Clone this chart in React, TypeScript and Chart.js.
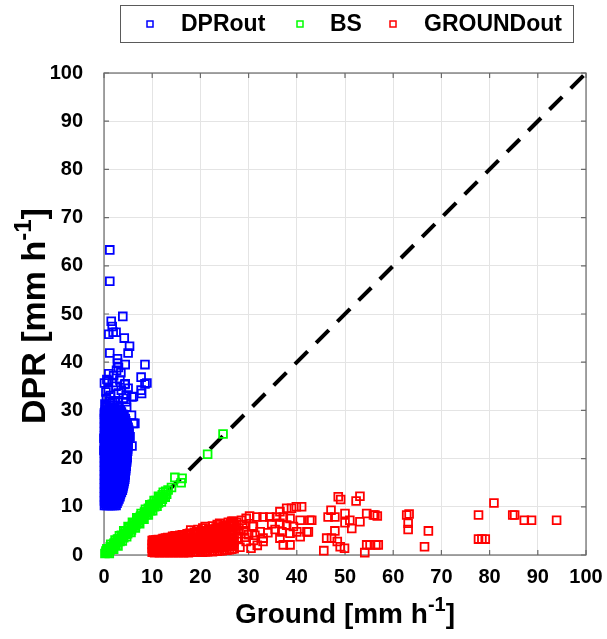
import React, { useEffect, useRef } from 'react';
import { Chart, registerables } from 'chart.js';

Chart.register(...registerables);

const X_TICKS = [0, 10, 20, 30, 40, 50, 60, 70, 80, 90, 100];
const Y_TICKS = [0, 10, 20, 30, 40, 50, 60, 70, 80, 90, 100];
const SERIES_NAMES = ['DPRout', 'BS', 'GROUNDout'];
const SERIES_COLORS = ['#0000ff', '#00ff00', '#ff0000'];

// DPRout dense part: [y, x1, x2, ...]
const DPR_DENSE_ROWS: number[][] = [
  [10.3, 0.1, 0.5, 0.9, 1.3, 1.7, 2.1, 2.5],
  [10.75, 0.3, 0.7, 1.1, 1.5, 1.9, 2.3, 2.7],
  [11.2, 0.1, 0.5, 0.9, 1.3, 1.7, 2.1, 2.5, 2.9],
  [11.65, 0.3, 0.7, 1.1, 1.5, 1.9, 2.3, 2.7, 3.1],
  [12.1, 0.1, 0.5, 0.9, 1.3, 1.7, 2.1, 2.5, 2.9, 3.3],
  [12.55, 0.3, 0.7, 1.1, 1.5, 1.9, 2.3, 2.7, 3.1, 3.4],
  [13.0, 0.1, 0.5, 0.9, 1.3, 1.7, 2.1, 2.5, 2.9, 3.3, 3.6],
  [13.45, 0.3, 0.7, 1.1, 1.5, 1.9, 2.3, 2.7, 3.1, 3.5, 3.8],
  [13.9, 0.1, 0.5, 0.9, 1.3, 1.7, 2.1, 2.5, 2.9, 3.3, 3.7, 3.9],
  [14.35, 0.3, 0.7, 1.1, 1.5, 1.9, 2.3, 2.7, 3.1, 3.5, 3.9, 4.0],
  [14.8, 0.1, 0.5, 0.9, 1.3, 1.7, 2.1, 2.5, 2.9, 3.3, 3.7, 4.1],
  [15.25, 0.3, 0.7, 1.1, 1.5, 1.9, 2.3, 2.7, 3.1, 3.5, 3.9, 4.2],
  [15.7, 0.1, 0.5, 0.9, 1.3, 1.7, 2.1, 2.5, 2.9, 3.3, 3.7, 4.1, 4.3],
  [16.15, 0.3, 0.7, 1.1, 1.5, 1.9, 2.3, 2.7, 3.1, 3.5, 3.9, 4.3],
  [16.6, 0.1, 0.5, 0.9, 1.3, 1.7, 2.1, 2.5, 2.9, 3.3, 3.7, 4.1, 4.4],
  [17.05, 0.3, 0.7, 1.1, 1.5, 1.9, 2.3, 2.7, 3.1, 3.5, 3.9, 4.3, 4.4],
  [17.5, 0.1, 0.5, 0.9, 1.3, 1.7, 2.1, 2.5, 2.9, 3.3, 3.7, 4.1, 4.5],
  [17.95, 0.3, 0.7, 1.1, 1.5, 1.9, 2.3, 2.7, 3.1, 3.5, 3.9, 4.3, 4.5],
  [18.4, 0.1, 0.5, 0.9, 1.3, 1.7, 2.1, 2.5, 2.9, 3.3, 3.7, 4.1, 4.6],
  [18.85, 0.3, 0.7, 1.1, 1.5, 1.9, 2.3, 2.7, 3.1, 3.5, 3.9, 4.3, 4.6],
  [19.3, 0.1, 0.5, 0.9, 1.3, 1.7, 2.1, 2.5, 2.9, 3.3, 3.7, 4.1, 4.5, 4.7],
  [19.75, 0.3, 0.7, 1.1, 1.5, 1.9, 2.3, 2.7, 3.1, 3.5, 3.9, 4.3, 4.7],
  [20.2, 0.1, 0.5, 0.9, 1.3, 1.7, 2.1, 2.5, 2.9, 3.3, 3.7, 4.1, 4.5, 4.8],
  [20.65, 0.3, 0.7, 1.1, 1.5, 1.9, 2.3, 2.7, 3.1, 3.5, 3.9, 4.3, 4.7, 4.8],
  [21.1, 0.1, 0.5, 0.9, 1.3, 1.7, 2.1, 2.5, 2.9, 3.3, 3.7, 4.1, 4.5, 4.8],
  [21.55, 0.3, 0.7, 1.1, 1.5, 1.9, 2.3, 2.7, 3.1, 3.5, 3.9, 4.3, 4.7, 4.9],
  [22.0, 0.1, 0.5, 0.9, 1.3, 1.7, 2.1, 2.5, 2.9, 3.3, 3.7, 4.1, 4.5, 4.9],
  [22.45, 0.3, 0.7, 1.1, 1.5, 1.9, 2.3, 2.7, 3.1, 3.5, 3.9, 4.3, 4.7, 4.9],
  [22.9, 0.1, 0.5, 0.9, 1.3, 1.7, 2.1, 2.5, 2.9, 3.3, 3.7, 4.1, 4.5, 5.0],
  [23.35, 0.3, 0.7, 1.1, 1.5, 1.9, 2.3, 2.7, 3.1, 3.5, 3.9, 4.3, 4.7, 5.0],
  [23.8, 0.1, 0.5, 0.9, 1.3, 1.7, 2.1, 2.5, 2.9, 3.3, 3.7, 4.1, 4.5, 5.0],
  [24.25, 0.3, 0.7, 1.1, 1.5, 1.9, 2.3, 2.7, 3.1, 3.5, 3.9, 4.3, 4.7, 5.1],
  [24.7, 0.1, 0.5, 0.9, 1.3, 1.7, 2.1, 2.5, 2.9, 3.3, 3.7, 4.1, 4.5, 5.1],
  [25.15, 0.3, 0.7, 1.1, 1.5, 1.9, 2.3, 2.7, 3.1, 3.5, 3.9, 4.3, 4.7, 5.1],
  [25.6, 0.1, 0.5, 0.9, 1.3, 1.7, 2.1, 2.5, 2.9, 3.3, 3.7, 4.1, 4.5, 5.2],
  [26.05, 0.3, 0.7, 1.1, 1.5, 1.9, 2.3, 2.7, 3.1, 3.5, 3.9, 4.3, 4.7, 5.1],
  [26.5, 0.1, 0.5, 0.9, 1.3, 1.7, 2.1, 2.5, 2.9, 3.3, 3.7, 4.1, 4.5, 5.0],
  [26.95, 0.3, 0.7, 1.1, 1.5, 1.9, 2.3, 2.7, 3.1, 3.5, 3.9, 4.3, 4.8],
  [27.4, 0.1, 0.5, 0.9, 1.3, 1.7, 2.1, 2.5, 2.9, 3.3, 3.7, 4.1, 4.7],
  [27.85, 0.3, 0.7, 1.1, 1.5, 1.9, 2.3, 2.7, 3.1, 3.5, 3.9, 4.3, 4.5],
  [28.3, 0.1, 0.5, 0.9, 1.3, 1.7, 2.1, 2.5, 2.9, 3.3, 3.7, 4.1, 4.4],
  [28.75, 0.3, 0.7, 1.1, 1.5, 1.9, 2.3, 2.7, 3.1, 3.5, 3.9, 4.1],
  [29.2, 0.1, 0.6, 1.2, 1.8, 2.4, 3.0, 3.6, 3.9],
  [29.65, 0.2, 0.8, 1.4, 2.0, 2.6, 3.2, 3.6],
  [30.1, 0.3, 0.9, 1.5, 2.1, 2.7, 3.4],
  [30.55, 0.6, 1.4, 2.2, 3.0],
  [31.0, 0.4, 1.2, 2.0, 2.8],
];

// DPRout scattered points: [x, y]
const DPR_SPARSE: number[][] = [
  [1.2, 63.3], [1.2, 56.8], [3.9, 49.5], [1.5, 48.5], [1.7, 47.4], [1.0, 45.8],
  [1.9, 46.2], [2.5, 46.2], [4.2, 45.0], [5.3, 43.3], [1.2, 41.9], [2.8, 40.7],
  [5.0, 41.9], [8.5, 39.5], [4.4, 39.5], [3.0, 38.9], [7.7, 36.9], [8.9, 35.7],
  [0.1, 35.7], [0.6, 36.4], [4.3, 35.4], [7.7, 34.2], [5.8, 32.8], [0.1, 29.5],
  [1.7, 31.7], [4.7, 30.7], [6.1, 27.3], [0.0, 24.2], [0.0, 21.7], [5.8, 22.6],
  [5.4, 24.5], [2.8, 39.8], [0.9, 36.2], [4.4, 35.5], [8.5, 35.5], [6.1, 32.9],
  [7.8, 33.5], [1.6, 29.7], [5.7, 29.0], [6.4, 27.3], [5.0, 25.9],
  [0.5, 32.4], [1.3, 33.1], [2.2, 32.0], [3.0, 33.6], [0.9, 34.4], [2.5, 35.0],
  [3.6, 34.2], [1.8, 35.8], [0.4, 33.8], [4.0, 32.5], [2.9, 31.7], [1.1, 31.9],
  [3.3, 36.3], [2.0, 37.2], [1.0, 37.6], [2.6, 38.3], [3.5, 37.8], [4.7, 33.2],
  [5.0, 34.6], [4.6, 31.8], [0.2, 31.3],
];

// BS points: [x, y]
const BS_POINTS: number[][] = [
  [0.2, 0.3], [0.5, 0.4], [0.7, 0.8], [1.0, 1.1], [1.2, 1.0], [1.5, 1.6], [1.8, 1.7],
  [2.0, 2.2], [2.3, 2.1], [2.6, 2.7], [2.9, 2.8], [3.1, 3.3], [3.4, 3.2], [3.7, 3.8],
  [4.0, 3.9], [4.2, 4.4], [4.5, 4.3], [4.8, 4.9], [5.1, 5.0], [5.3, 5.6], [5.6, 5.4],
  [5.9, 6.0], [6.2, 6.1], [6.4, 6.7], [6.7, 6.5], [7.0, 7.1], [7.3, 7.2], [7.5, 7.8],
  [7.8, 7.6], [8.1, 8.2], [8.4, 8.3], [8.6, 8.9], [8.9, 8.7], [9.2, 9.4], [9.5, 9.3],
  [9.7, 10.0], [10.0, 9.8], [10.3, 10.5], [10.6, 10.4], [10.9, 11.2], [11.2, 11.0],
  [11.5, 11.8], [11.8, 11.6], [12.1, 12.5], [12.4, 12.2], [12.8, 13.2], [13.0, 12.6],
  [13.3, 13.5], [14.0, 14.0], [14.7, 16.1], [16.2, 15.9], [16.0, 15.0],
  [21.5, 20.9], [24.7, 25.1],
  [0.6, 1.3], [1.1, 0.3], [1.4, 2.2], [2.0, 1.2], [2.3, 3.1], [2.9, 1.9], [3.2, 4.0],
  [3.8, 2.9], [4.1, 5.0], [4.7, 3.8], [5.0, 5.9], [5.6, 4.7], [5.9, 6.8], [6.5, 5.6],
  [6.8, 7.7], [7.4, 6.5], [7.7, 8.6], [8.3, 7.4], [8.6, 9.5], [9.2, 8.3], [9.5, 10.4],
  [10.1, 9.2], [10.4, 11.3], [11.0, 10.1], [11.3, 12.2], [11.9, 11.0], [12.3, 13.0],
  [12.7, 12.0],
  [0.4, 0.8], [0.8, 0.4], [1.3, 1.7], [1.7, 1.3], [2.1, 2.5], [2.5, 2.1], [2.8, 3.3],
  [3.3, 2.8], [3.6, 4.1], [4.1, 3.6], [4.4, 4.9], [4.9, 4.4], [5.2, 5.7], [5.7, 5.2],
  [6.0, 6.5], [6.5, 6.0], [6.8, 7.3], [7.3, 6.8], [7.6, 8.1], [8.1, 7.6], [8.4, 8.9],
  [8.9, 8.4], [9.2, 9.7], [9.7, 9.2], [10.0, 10.5], [10.5, 10.0], [10.8, 11.3],
  [11.3, 10.8], [11.6, 12.1], [12.1, 11.6],
];

// GROUNDout dense part: [x, y1, y2, ...]
const GROUND_DENSE_COLS: number[][] = [
  [10.0, 0.6, 1.4, 2.2, 3.0], [10.25, 1.0, 1.8, 2.6, 3.1],
  [10.5, 0.5, 1.3, 2.1, 2.9], [10.75, 1.0, 1.8, 2.6, 3.1],
  [11.0, 0.6, 1.4, 2.2, 3.1], [11.25, 1.0, 1.8, 2.7, 3.2],
  [11.5, 0.5, 1.3, 2.2, 3.1], [11.75, 1.0, 1.9, 2.7],
  [12.0, 0.6, 1.5, 2.3, 3.2], [12.25, 1.0, 1.9, 2.8, 3.4],
  [12.5, 0.5, 1.4, 2.3, 3.2], [12.75, 1.0, 1.9, 2.8, 3.5],
  [13.0, 0.6, 1.5, 2.4, 3.4], [13.25, 1.0, 2.0, 2.9, 3.6],
  [13.5, 0.5, 1.4, 2.4, 3.5], [13.75, 1.0, 2.0, 3.0],
  [14.0, 0.6, 1.5, 2.5, 3.6], [14.25, 1.0, 2.0, 3.1, 3.9],
  [14.5, 0.5, 1.5, 2.5, 3.6], [14.75, 1.0, 2.1, 3.1, 4.0],
  [15.0, 0.6, 1.6, 2.6, 3.7], [15.25, 1.1, 2.1, 3.2],
  [15.5, 0.5, 1.5, 2.6, 3.8], [15.75, 1.1, 2.2, 3.3, 4.1],
  [16.0, 0.6, 1.6, 2.7, 3.9], [16.25, 1.1, 2.2, 3.3, 4.2],
  [16.5, 0.5, 1.6, 2.7, 3.9], [16.75, 1.1, 2.2, 3.4],
  [17.0, 0.6, 1.7, 2.8, 4.0], [17.25, 1.1, 2.3, 3.4, 4.4],
  [17.5, 0.5, 1.6, 2.8, 4.1], [17.75, 1.1, 2.3, 3.5, 4.5],
  [18.0, 0.6, 1.7, 2.9, 4.2], [18.25, 1.2, 2.3, 3.5],
  [18.5, 0.6, 1.7, 2.9, 4.2], [18.75, 1.2, 2.4, 3.6, 4.7],
  [19.0, 0.6, 1.8, 3.0, 4.3], [19.25, 1.2, 2.4, 3.7, 4.8],
  [19.5, 0.6, 1.8, 3.0, 4.4], [19.75, 1.2, 2.5, 3.7],
  [20.0, 0.7, 1.9, 3.1, 4.5], [20.25, 1.3, 2.5, 3.8, 5.0],
  [20.5, 0.6, 1.9, 3.1, 4.5], [20.75, 1.3, 2.6, 3.9, 5.1],
  [21.0, 0.7, 1.9, 3.2, 4.6], [21.25, 1.3, 2.6, 3.9],
  [21.5, 0.7, 2.0, 3.3, 4.7], [21.75, 1.4, 2.7, 4.0, 5.3],
  [22.0, 0.8, 2.0, 3.3, 4.8], [22.25, 1.4, 2.7, 4.1, 5.4],
  [22.5, 0.7, 2.0, 3.4, 4.9], [22.75, 1.4, 2.8, 4.2],
  [23.0, 0.8, 2.1, 3.5, 5.0], [23.25, 1.5, 2.9, 4.3, 5.6],
  [23.5, 0.8, 2.2, 3.6, 5.1], [23.75, 1.5, 2.9, 4.4, 5.8],
  [24.0, 0.9, 2.2, 3.6, 5.3], [24.25, 1.6, 3.0, 4.5],
  [24.5, 0.9, 2.3, 3.7, 5.5], [24.75, 1.6, 3.1, 4.6, 6.0],
  [25.0, 1.0, 2.4, 3.8, 5.7], [25.25, 1.7, 3.2, 4.8, 6.2],
  [25.5, 1.0, 2.5, 4.0, 5.8], [25.75, 1.8, 3.3, 4.9],
  [26.0, 1.1, 2.6, 4.1, 6.0], [26.25, 1.8, 3.4, 5.0, 6.5],
  [26.5, 1.2, 2.7, 4.3, 6.2], [26.75, 1.9, 3.5, 5.2, 6.6],
  [27.0, 1.3, 2.8, 4.4, 6.3],
];

// GROUNDout scattered points: [x, y]
const GROUND_SPARSE: number[][] = [
  [18.0, 5.2], [19.5, 5.3], [20.5, 5.6], [21.0, 5.9], [22.5, 6.0], [23.5, 6.3], [24.0, 6.6],
  [25.8, 6.8], [26.8, 7.0],
  [26.5, 7.0], [27.5, 6.8], [28.5, 7.2], [29.5, 7.6], [30.2, 8.1], [28.0, 5.5], [29.0, 5.0],
  [30.0, 4.2], [27.6, 3.5], [29.5, 2.8], [28.2, 1.6], [30.5, 1.4], [26.8, 2.2], [31.8, 2.0],
  [28.8, 6.3], [30.8, 6.0], [27.9, 4.4], [29.2, 3.7], [31.0, 3.0],
  [31.7, 7.9], [33.0, 7.9], [34.4, 7.9], [35.8, 7.9], [36.5, 9.0], [37.9, 9.7], [38.9, 9.7],
  [39.9, 10.0], [41.0, 10.0], [37.2, 7.9], [38.6, 7.6], [40.7, 7.2], [42.7, 7.2], [43.1, 7.2],
  [36.5, 6.6], [37.9, 6.2], [39.3, 5.9], [36.9, 4.8], [38.6, 4.5], [40.7, 3.8], [36.5, 3.5],
  [37.2, 2.1], [38.6, 2.1], [33.0, 3.5], [32.4, 4.8], [31.0, 5.9], [31.3, 4.1], [40.0, 4.8],
  [42.1, 4.8], [42.4, 4.8], [33.0, 2.8], [34.8, 6.5], [35.5, 5.3], [34.0, 4.6],
  [45.6, 0.9], [46.2, 3.5], [47.2, 3.5], [48.4, 2.8], [49.0, 1.7], [49.9, 1.4], [47.9, 5.0],
  [46.5, 7.9], [47.9, 7.9], [47.1, 9.3], [50.0, 8.6], [51.0, 7.2], [50.0, 6.7], [51.4, 5.5],
  [53.1, 6.9], [54.5, 8.6], [56.2, 8.3], [48.6, 12.1], [49.1, 11.5], [52.3, 11.2], [53.1, 12.2],
  [54.5, 2.1], [56.4, 2.1], [54.1, 0.5],
  [55.9, 8.3], [56.7, 8.1], [55.2, 2.1], [56.9, 2.1], [62.8, 8.3], [63.3, 8.5], [63.1, 6.6],
  [63.1, 5.3], [67.3, 5.0], [66.5, 1.7], [77.7, 8.3], [80.9, 10.8], [77.7, 3.3], [78.4, 3.3],
  [79.1, 3.3], [84.8, 8.3], [85.2, 8.3], [87.2, 7.2], [88.7, 7.2], [93.9, 7.2],
];

const ONE_TO_ONE: number[][] = [[0, 0], [100, 100]];

const FONT = '"Liberation Sans", Arial, Helvetica, sans-serif';
const AXIS_COLOR = '#6a6a6a';

function rowsToPoints(rows: number[][]) {
  const out: { x: number; y: number }[] = [];
  rows.forEach(([y, ...xs]) => xs.forEach((x) => out.push({ x, y })));
  return out;
}
function colsToPoints(cols: number[][]) {
  const out: { x: number; y: number }[] = [];
  cols.forEach(([x, ...ys]) => ys.forEach((y) => out.push({ x, y })));
  return out;
}
const pairs = (arr: number[][]) => arr.map(([x, y]) => ({ x, y }));

function drawLabelWithSup(ctx: CanvasRenderingContext2D, base: string, sup: string, tail: string, size: number) {
  ctx.font = `bold ${size}px ${FONT}`;
  const wBase = ctx.measureText(base).width;
  const wTail = ctx.measureText(tail).width;
  const supSize = Math.round(size * 0.7);
  ctx.font = `bold ${supSize}px ${FONT}`;
  const wSup = ctx.measureText(sup).width;
  const total = wBase + wSup + wTail;
  let x = -total / 2;
  ctx.textAlign = 'left';
  ctx.textBaseline = 'alphabetic';
  ctx.fillStyle = '#000';
  ctx.font = `bold ${size}px ${FONT}`;
  ctx.fillText(base, x, 0);
  x += wBase;
  ctx.font = `bold ${supSize}px ${FONT}`;
  ctx.fillText(sup, x, -size * 0.42);
  x += wSup;
  ctx.font = `bold ${size}px ${FONT}`;
  ctx.fillText(tail, x, 0);
}

const decorPlugin = {
  id: 'decor',
  beforeDatasetsDraw(chart: any) {
    const { ctx, chartArea } = chart;
    const { left, right, top, bottom } = chartArea;
    const xs = chart.scales.x;
    const ys = chart.scales.y;
    ctx.save();
    ctx.strokeStyle = AXIS_COLOR;
    ctx.lineWidth = 1.2;
    ctx.strokeRect(left, top, right - left, bottom - top);
    const tl = 5;
    ctx.beginPath();
    X_TICKS.forEach((v) => {
      const px = xs.getPixelForValue(v);
      ctx.moveTo(px, bottom);
      ctx.lineTo(px, bottom - tl);
      ctx.moveTo(px, top);
      ctx.lineTo(px, top + tl);
    });
    Y_TICKS.forEach((v) => {
      const py = ys.getPixelForValue(v);
      ctx.moveTo(left, py);
      ctx.lineTo(left + tl, py);
      ctx.moveTo(right, py);
      ctx.lineTo(right - tl, py);
    });
    ctx.stroke();
    ctx.restore();
  },
  afterDraw(chart: any) {
    const { ctx, chartArea } = chart;
    const { left, right, top, bottom } = chartArea;
    ctx.save();
    ctx.save();
    ctx.translate((left + right) / 2, 623);
    drawLabelWithSup(ctx, 'Ground [mm h', '-1', ']', 28);
    ctx.restore();
    ctx.save();
    ctx.translate(45, (top + bottom) / 2 + 2);
    ctx.rotate(-Math.PI / 2);
    drawLabelWithSup(ctx, 'DPR [mm h', '-1', ']', 34);
    ctx.restore();

    const lx = 120, ly = 5, lw = 453, lh = 37;
    ctx.fillStyle = '#ffffff';
    ctx.fillRect(lx, ly, lw, lh);
    ctx.strokeStyle = '#5a5a5a';
    ctx.lineWidth = 1;
    ctx.strokeRect(lx + 0.5, ly + 0.5, lw, lh);
    const markerX = [150, 300, 393];
    const textX = [181, 330, 424];
    const cy = ly + lh / 2 + 0.5;
    ctx.font = `bold 23px ${FONT}`;
    ctx.textAlign = 'left';
    ctx.textBaseline = 'middle';
    SERIES_NAMES.forEach((name, i) => {
      ctx.strokeStyle = SERIES_COLORS[i];
      ctx.lineWidth = 1.5;
      ctx.strokeRect(markerX[i] - 3, cy - 3, 6, 6);
      ctx.fillStyle = '#000';
      ctx.fillText(name, textX[i], cy + 1);
    });
    ctx.restore();
  },
};

export default function App() {
  const canvasRef = useRef<HTMLCanvasElement | null>(null);

  useEffect(() => {
    const canvas = canvasRef.current;
    if (!canvas) return;
    const pointStyle = {
      pointStyle: 'rect' as const,
      pointRadius: 5.5,
      pointHoverRadius: 5.5,
      borderWidth: 1.8,
      backgroundColor: 'rgba(0,0,0,0)',
      showLine: false,
      clip: false as const,
    };
    const chart = new Chart(canvas, {
      type: 'scatter',
      data: {
        datasets: [
          {
            label: '1:1',
            type: 'line',
            data: pairs(ONE_TO_ONE),
            borderColor: '#000000',
            borderWidth: 4,
            borderDash: [18, 12],
            pointRadius: 0,
            showLine: true,
            fill: false,
            order: 10,
          } as any,
          {
            label: SERIES_NAMES[0],
            data: [...rowsToPoints(DPR_DENSE_ROWS), ...pairs(DPR_SPARSE)],
            borderColor: SERIES_COLORS[0],
            order: 3,
            ...pointStyle,
          },
          {
            label: SERIES_NAMES[1],
            data: pairs(BS_POINTS),
            borderColor: SERIES_COLORS[1],
            order: 2,
            ...pointStyle,
          },
          {
            label: SERIES_NAMES[2],
            data: [...colsToPoints(GROUND_DENSE_COLS), ...pairs(GROUND_SPARSE)],
            borderColor: SERIES_COLORS[2],
            order: 1,
            ...pointStyle,
          },
        ],
      },
      options: {
        animation: false,
        responsive: false,
        devicePixelRatio: 1,
        events: [],
        layout: { padding: { top: 73, right: 21, left: 0, bottom: 0 } },
        plugins: { legend: { display: false }, tooltip: { enabled: false } },
        scales: {
          x: {
            type: 'linear',
            min: 0,
            max: 100,
            afterBuildTicks: (s: any) => {
              s.ticks = X_TICKS.map((v) => ({ value: v }));
            },
            afterFit: (s: any) => {
              s.height = 639 - 555;
              s.paddingLeft = 0;
              s.paddingRight = 0;
            },
            grid: { color: '#e4e4e4', lineWidth: 1, drawTicks: false },
            border: { display: false },
            ticks: {
              padding: 10,
              color: '#000',
              maxRotation: 0,
              font: { family: FONT, size: 20, weight: 'bold' },
            },
          },
          y: {
            type: 'linear',
            min: 0,
            max: 100,
            afterBuildTicks: (s: any) => {
              s.ticks = Y_TICKS.map((v) => ({ value: v }));
            },
            afterFit: (s: any) => {
              s.width = 104;
              s.paddingTop = 0;
              s.paddingBottom = 0;
            },
            grid: { color: '#e4e4e4', lineWidth: 1, drawTicks: false },
            border: { display: false },
            ticks: {
              padding: 21,
              color: '#000',
              font: { family: FONT, size: 20, weight: 'bold' },
            },
          },
        },
      },
      plugins: [decorPlugin],
    });
    return () => chart.destroy();
  }, []);

  return (
    <div style={{ position: 'absolute', left: 0, top: 0, width: 607, height: 639 }}>
      <canvas ref={canvasRef} width={607} height={639} style={{ display: 'block' }} />
    </div>
  );
}
